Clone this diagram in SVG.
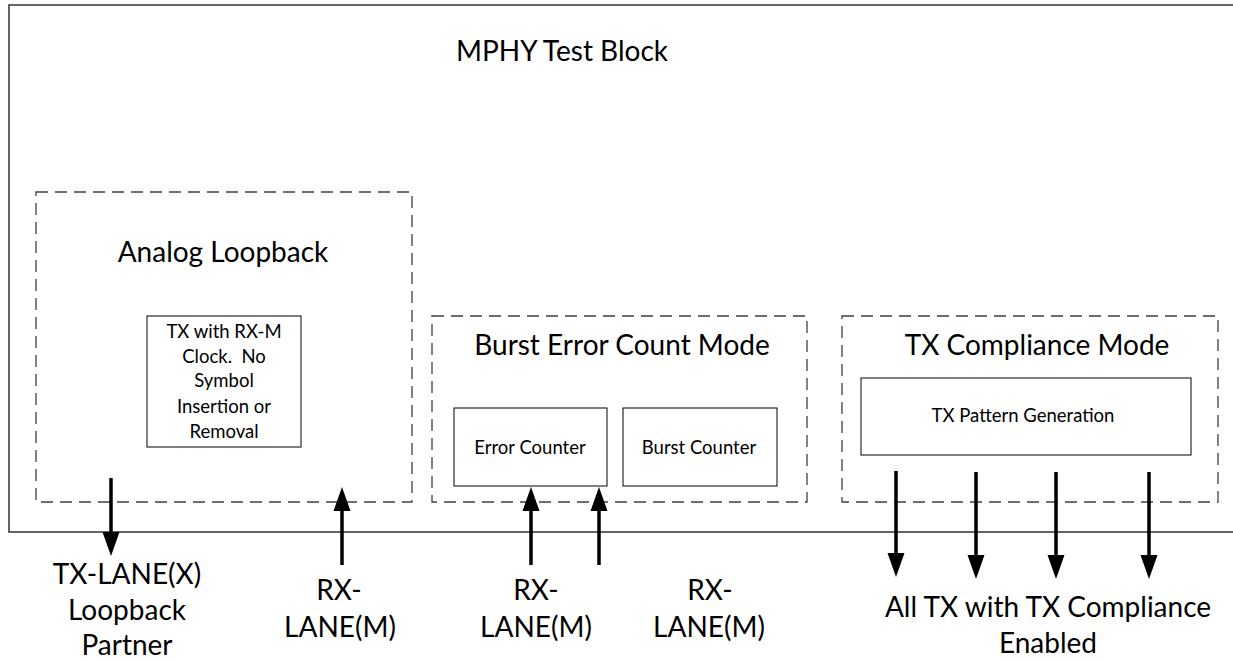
<svg xmlns="http://www.w3.org/2000/svg" width="1233" height="662" viewBox="0 0 1233 662">
<style>
text{font-family:Lato,"Liberation Sans",sans-serif;fill:#000;text-anchor:middle}
.big{font-size:28px}
.small{font-size:18.5px}
.outer{fill:none;stroke:#333;stroke-width:1.5}
.dash{fill:none;stroke:#404040;stroke-width:1.3;stroke-dasharray:12 7}
.box{fill:#fff;stroke:#000;stroke-width:1}
.arr{stroke:#000;stroke-width:3.5;fill:none;marker-end:url(#ah)}
</style>
<defs>
<marker id="ah" markerUnits="userSpaceOnUse" markerWidth="26" markerHeight="20" viewBox="0 -10 26 20" refX="0" refY="0" orient="auto">
<path d="M0,-8.5 L24,0 L0,8.5 z" fill="#000"/>
</marker>
</defs>
<g id="mphy">
<path class="outer" d="M1233,5 H9 V532 H1233"/>
<text class="big" x="562" y="61">MPHY Test Block</text>
</g>
<g id="analog-loopback">
<rect class="dash" x="36" y="192" width="376" height="310"/>
<text class="big" x="223" y="262">Analog Loopback</text>
</g>
<g id="tx-rxm-clock">
<rect class="box" x="147" y="316" width="154" height="131"/>
<text class="small" x="224" y="338">TX with RX-M</text>
<text class="small" x="224" y="363" xml:space="preserve">Clock.  No</text>
<text class="small" x="224" y="387">Symbol</text>
<text class="small" x="224" y="413">Insertion or</text>
<text class="small" x="224" y="438">Removal</text>
</g>
<g id="burst-error-count-mode">
<rect class="dash" x="432" y="316" width="375" height="186"/>
<text class="big" x="622" y="355">Burst Error Count Mode</text>
</g>
<g id="error-counter">
<rect class="box" x="454" y="408" width="153" height="78"/>
<text class="small" x="530" y="454">Error Counter</text>
</g>
<g id="burst-counter">
<rect class="box" x="623" y="408" width="154" height="78"/>
<text class="small" x="699" y="454">Burst Counter</text>
</g>
<g id="tx-compliance-mode">
<rect class="dash" x="842" y="316" width="376" height="186"/>
<text class="big" x="1037" y="355">TX Compliance Mode</text>
</g>
<g id="tx-pattern-generation">
<rect class="box" x="861" y="378" width="330" height="77"/>
<text class="small" x="1023" y="422">TX Pattern Generation</text>
</g>
<g id="labels">
<text class="big" x="127" y="584">TX-LANE(X)</text>
<text class="big" x="127" y="620">Loopback</text>
<text class="big" x="127" y="655">Partner</text>
<text class="big" x="339" y="600">RX-</text>
<text class="big" x="340" y="637">LANE(M)</text>
<text class="big" x="536" y="600">RX-</text>
<text class="big" x="536" y="637">LANE(M)</text>
<text class="big" x="710" y="600">RX-</text>
<text class="big" x="709" y="637">LANE(M)</text>
<text class="big" x="1048" y="617">All TX with TX Compliance</text>
<text class="big" x="1048" y="653">Enabled</text>
</g>
<g id="connectors">
<line class="arr" x1="111" y1="478" x2="111" y2="532"/>
<line class="arr" x1="342" y1="565" x2="342" y2="511"/>
<line class="arr" x1="531" y1="565" x2="531" y2="511"/>
<line class="arr" x1="599" y1="565" x2="599" y2="511"/>
<line class="arr" x1="896" y1="471" x2="896" y2="553"/>
<line class="arr" x1="976" y1="472" x2="976" y2="555"/>
<line class="arr" x1="1056" y1="472" x2="1056" y2="555"/>
<line class="arr" x1="1149" y1="472" x2="1149" y2="555"/>
</g>
</svg>
